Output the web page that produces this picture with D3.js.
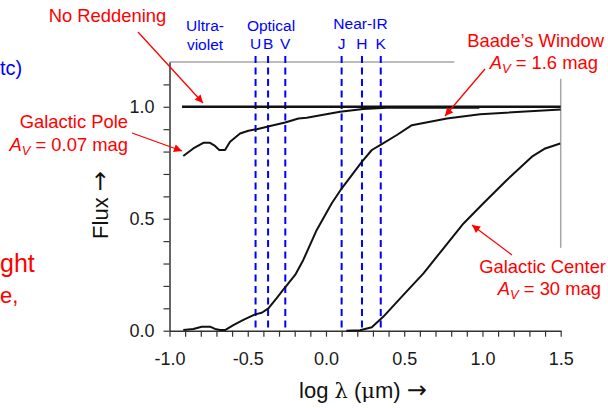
<!DOCTYPE html>
<html>
<head>
<meta charset="utf-8">
<script src="https://cdn.jsdelivr.net/npm/d3@7"></script>
<style>
  body { margin: 0; background: white; }
  text { font-family: Arial, "Liberation Sans", sans-serif; }
</style>
</head>
<body>
<div id="container"></div>
<script>
// spectra (log lambda in micron -> relative flux)
let noRedX = [-0.92, 1.5];
let noRedY = [1.0, 1.0];

let poleX = [-0.912, -0.848, -0.784, -0.741, -0.709, -0.682, -0.645, -0.613, -0.549, -0.496, -0.442, -0.357, -0.261, -0.176, -0.123, 0.09, 0.239, 0.389, 0.7, 0.98];
let poleY = [0.78, 0.814, 0.839, 0.839, 0.825, 0.807, 0.807, 0.844, 0.881, 0.893, 0.9, 0.914, 0.93, 0.948, 0.951, 0.978, 0.99, 0.996, 0.996, 0.996];

let baadeX = [-0.912, -0.848, -0.794, -0.741, -0.709, -0.677, -0.645, -0.592, -0.528, -0.453, -0.41, -0.368, -0.315, -0.261, -0.197, -0.145, -0.059, 0.037, 0.101, 0.229, 0.293, 0.346, 0.453, 0.549, 0.773, 0.985, 1.5];
let baadeY = [0.003, 0.008, 0.018, 0.018, 0.008, 0.003, 0.003, 0.025, 0.048, 0.073, 0.08, 0.1, 0.145, 0.194, 0.249, 0.316, 0.45, 0.569, 0.636, 0.754, 0.807, 0.829, 0.874, 0.918, 0.948, 0.967, 0.988];

let centerX = [0.13, 0.218, 0.293, 0.367, 0.495, 0.623, 0.751, 0.879, 1.006, 1.156, 1.316, 1.401, 1.497];
let centerY = [0.0, 0.002, 0.015, 0.063, 0.16, 0.256, 0.368, 0.479, 0.569, 0.673, 0.777, 0.814, 0.836];

// photometric bands
let bandNames = ["U", "B", "V", "J", "H", "K"];
let bandX = [-0.45, -0.37, -0.26, 0.10, 0.23, 0.35];

// ticks
let xTicks = d3.range(-10, 16).map(i => i / 10);
let yTicks = d3.range(0, 12).map(i => i / 10);

let w = 608;
let h = 408;

let viz = d3.select("#container")
  .append("svg")
  .attr("width", w)
  .attr("height", h)
  .style("display", "block")
  .style("background-color", "white")
  ;

let xScale = d3.scaleLinear().domain([-1, 1.5]).range([169.5, 560.7]);
let yScale = d3.scaleLinear().domain([0, 1.2]).range([330.7, 62]);

// arrow marker
viz.append("defs").append("marker")
  .attr("id", "arrow")
  .attr("viewBox", "0 0 10 10")
  .attr("refX", 10)
  .attr("refY", 5)
  .attr("markerWidth", 10)
  .attr("markerHeight", 8)
  .attr("markerUnits", "userSpaceOnUse")
  .attr("orient", "auto")
  .append("path")
  .attr("d", "M0,0 L10,5 L0,10 Z")
  .attr("fill", "#ff0000")
  ;

// grey frame (partly hidden behind the labels)
viz.append("line")
  .attr("x1", xScale(-1)).attr("x2", xScale(0.82))
  .attr("y1", yScale(1.2)).attr("y2", yScale(1.2))
  .attr("stroke", "#a6a6a6").attr("stroke-width", 1.5);
viz.append("line")
  .attr("x1", xScale(1.5)).attr("x2", xScale(1.5))
  .attr("y1", yScale(1.125)).attr("y2", yScale(0.37))
  .attr("stroke", "#a6a6a6").attr("stroke-width", 1.5);

// axes
let xAxis = d3.axisBottom(xScale)
  .tickValues(xTicks)
  .tickSize(6)
  .tickSizeOuter(0)
  .tickFormat(d => Math.round(d * 10) % 5 === 0 ? d.toFixed(1) : "");
let xAxisGroup = viz.append("g")
  .attr("transform", "translate(0," + yScale(0) + ")")
  .call(xAxis);
xAxisGroup.selectAll("text").attr("y", 34).attr("dy", null);

let yAxis = d3.axisLeft(yScale)
  .tickValues(yTicks)
  .tickSize(6)
  .tickSizeOuter(0)
  .tickPadding(9)
  .tickFormat(d => Math.round(d * 10) % 5 === 0 ? d.toFixed(1) : "");
let yAxisGroup = viz.append("g")
  .attr("transform", "translate(" + xScale(-1) + ",0)")
  .call(yAxis);

[xAxisGroup, yAxisGroup].forEach(g => {
  g.select(".domain").attr("stroke", "#333").attr("stroke-width", 1.5);
  g.selectAll(".tick line").attr("stroke", "#333").attr("stroke-width", 1.2);
  g.selectAll("text")
    .attr("font-family", "Arial, 'Liberation Sans', sans-serif")
    .attr("font-size", "18px")
    .attr("fill", "#1a1a1a");
});

// band lines
viz.selectAll(".band").data(bandX).enter()
  .append("line")
  .attr("class", "band")
  .attr("x1", d => xScale(d)).attr("x2", d => xScale(d))
  .attr("y1", 56).attr("y2", yScale(0))
  .attr("stroke", "#0000ff")
  .attr("stroke-width", 2)
  .attr("stroke-dasharray", "7,4.5")
  ;

viz.selectAll(".bandLabel").data(bandNames).enter()
  .append("text")
  .attr("class", "bandLabel")
  .attr("x", (d, i) => xScale(bandX[i]))
  .attr("y", 49)
  .attr("text-anchor", "middle")
  .attr("font-size", "15.5px")
  .attr("fill", "#0000ff")
  .text(d => d);

// spectra
let line = d3.line()
  .x(d => xScale(d[0]))
  .y(d => yScale(d[1]))
  ;

let curves = [
  { xs: noRedX, ys: noRedY, width: 2.4 },
  { xs: poleX, ys: poleY, width: 2 },
  { xs: baadeX, ys: baadeY, width: 2 },
  { xs: centerX, ys: centerY, width: 2 },
];

viz.selectAll(".curve").data(curves).enter()
  .append("path")
  .attr("class", "curve")
  .attr("d", c => line(c.xs.map((x, i) => [x, c.ys[i]])))
  .attr("fill", "none")
  .attr("stroke", "#111")
  .attr("stroke-width", c => c.width)
  .attr("stroke-linejoin", "round")
  ;

// band group titles
function blueText(x, y, str) {
  viz.append("text")
    .attr("x", x).attr("y", y)
    .attr("text-anchor", "middle")
    .attr("font-size", "15.5px")
    .attr("fill", "#0000ff")
    .text(str);
}
blueText(205, 31, "Ultra-");
blueText(205, 50, "violet");
blueText(271, 31, "Optical");
blueText(360.5, 29, "Near-IR");

// red annotations
function redText(x, y, str, anchor) {
  return viz.append("text")
    .attr("x", x).attr("y", y)
    .attr("text-anchor", anchor)
    .attr("font-size", "18.4px")
    .attr("fill", "#ff0000")
    .text(str);
}
function avText(x, y, value, anchor) {
  let t = viz.append("text")
    .attr("x", x).attr("y", y)
    .attr("text-anchor", anchor)
    .attr("font-size", "18.4px")
    .attr("fill", "#ff0000");
  t.append("tspan").attr("font-style", "italic").text("A");
  t.append("tspan").attr("font-style", "italic").attr("font-size", "13px").attr("dy", 4).text("V");
  t.append("tspan").attr("dy", -4).text(" = " + value + " mag");
}

redText(107.5, 22, "No Reddening", "middle");
redText(128, 128, "Galactic Pole", "end");
avText(128, 151, "0.07", "end");
redText(604, 46.5, "Baade\u2019s Window", "end");
avText(598, 69, "1.6", "end");
redText(606, 272.5, "Galactic Center", "end");
avText(601, 295, "30", "end");

let arrows = [
  [138, 32, 203, 103],
  [132, 133, 182, 151],
  [485, 69, 445, 116],
  [512, 255, 472, 225],
];
viz.selectAll(".arrow").data(arrows).enter()
  .append("line")
  .attr("class", "arrow")
  .attr("x1", d => d[0]).attr("y1", d => d[1])
  .attr("x2", d => d[2]).attr("y2", d => d[3])
  .attr("stroke", "#ff0000")
  .attr("stroke-width", 1.3)
  .attr("marker-end", "url(#arrow)")
  ;

// cut-off text from the slide
viz.append("text").attr("x", 0).attr("y", 75)
  .attr("font-size", "20px").attr("fill", "#0000ff").text("tc)");
viz.append("text").attr("x", 0).attr("y", 272)
  .attr("font-size", "25px").attr("fill", "#ff0000").text("ght");
viz.append("text").attr("x", 0).attr("y", 303)
  .attr("font-size", "22px").attr("fill", "#ff0000").text("e,");

// axis titles
let fluxTitle = viz.append("text")
  .attr("transform", "translate(108,205) rotate(-90)")
  .attr("text-anchor", "middle")
  .attr("font-size", "22px")
  .attr("fill", "#111");
fluxTitle.append("tspan").text("Flux ");
fluxTitle.append("tspan").attr("font-family", "'DejaVu Sans', sans-serif").attr("font-size", "24px").text("\u2192");

let xTitle = viz.append("text")
  .attr("x", 363)
  .attr("y", 398)
  .attr("text-anchor", "middle")
  .attr("font-size", "22px")
  .attr("fill", "#111");
xTitle.append("tspan").text("log ");
xTitle.append("tspan").attr("font-family", "'DejaVu Serif', serif").attr("font-size", "21px").text("\u03bb");
xTitle.append("tspan").text(" (");
xTitle.append("tspan").attr("font-family", "'DejaVu Serif', serif").attr("font-size", "21px").text("\u03bc");
xTitle.append("tspan").text("m) ");
xTitle.append("tspan").attr("font-family", "'DejaVu Sans', sans-serif").attr("font-size", "24px").text("\u2192");
</script>
</body>
</html>
